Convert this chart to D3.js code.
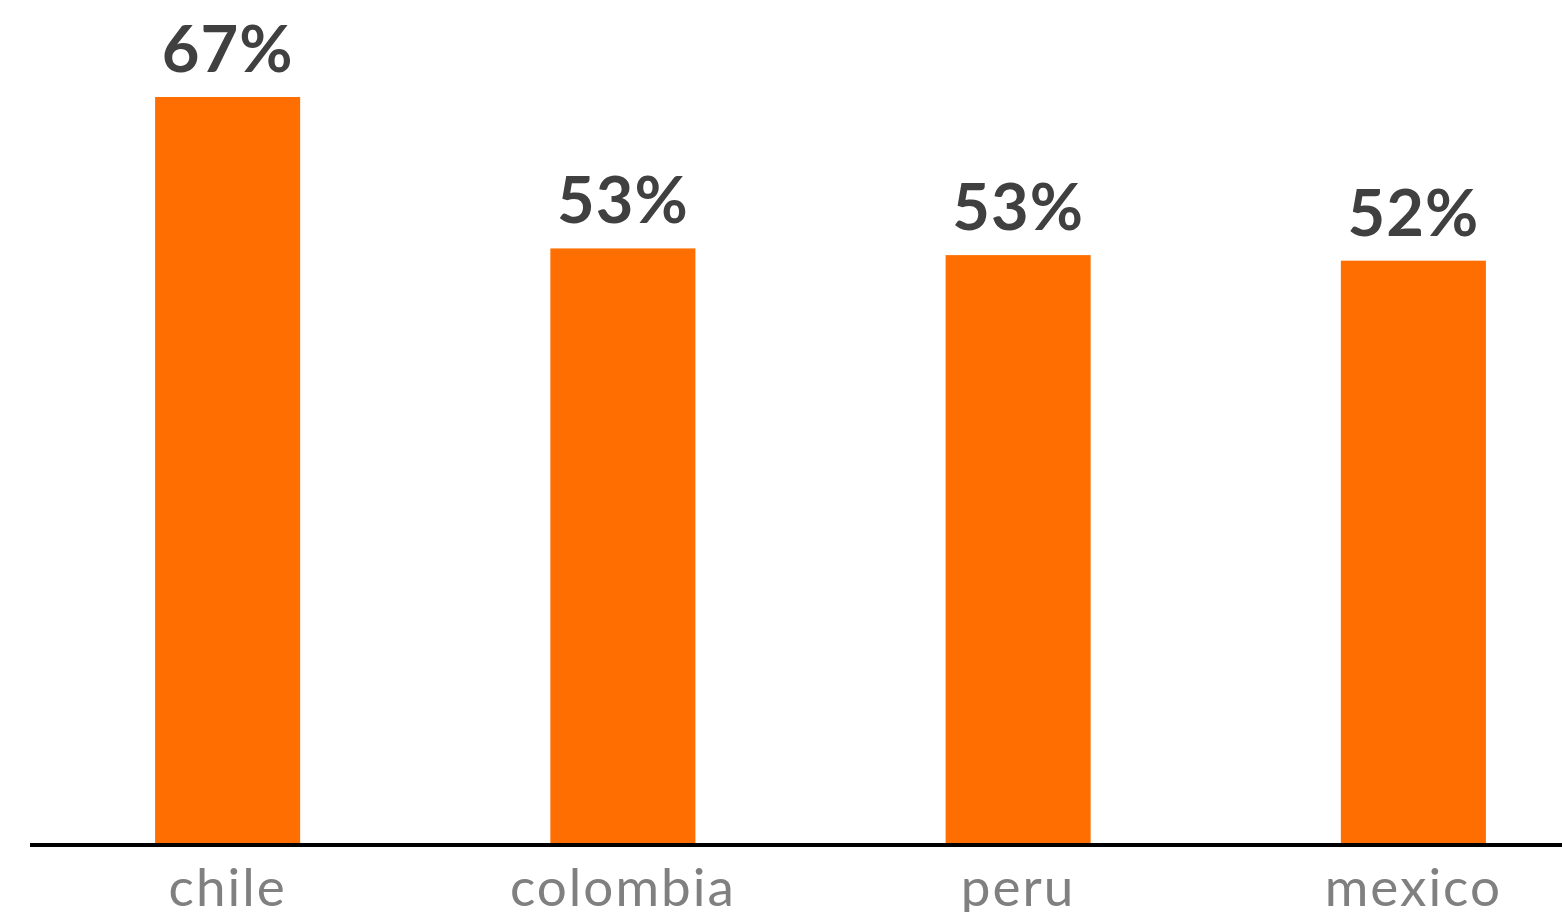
<!DOCTYPE html>
<html>
<head>
<meta charset="utf-8">
<script src="https://cdn.jsdelivr.net/npm/d3@7"></script>
<style>
  html, body { margin: 0; padding: 0; background: #fff; overflow: hidden; }
</style>
</head>
<body>
<div id="chart"></div>
<script>
const countries = ["chile", "colombia", "peru", "mexico"];
const shares = [67, 53.4, 52.8, 52.3];
const shareLabels = ["67%", "53%", "53%", "52%"];

const width = 1562;
const height = 912;
const baseline = 843;

const svg = d3.select("#chart").append("svg")
  .attr("width", width)
  .attr("height", height);

const x = d3.scaleBand()
  .domain(countries)
  .range([30, 1611])
  .paddingInner(0.633)
  .paddingOuter(0.3165);

const y = d3.scaleLinear()
  .domain([0, 67])
  .range([baseline, 97]);

svg.selectAll(".bar")
  .data(countries)
  .enter().append("rect")
  .attr("class", "bar")
  .attr("x", d => x(d))
  .attr("y", (d, i) => y(shares[i]))
  .attr("width", x.bandwidth())
  .attr("height", (d, i) => baseline - y(shares[i]))
  .attr("fill", "#ff6e00");

svg.selectAll(".value")
  .data(countries)
  .enter().append("text")
  .attr("class", "value")
  .attr("x", d => x(d) + x.bandwidth() / 2)
  .attr("y", (d, i) => y(shares[i]) - 25)
  .attr("text-anchor", "middle")
  .attr("font-family", "Lato, sans-serif")
  .attr("font-weight", "bold")
  .attr("font-size", "65px")
  .attr("letter-spacing", "1px")
  .attr("fill", "#404040")
  .text((d, i) => shareLabels[i]);

// axis line + category labels
svg.append("line")
  .attr("x1", 30)
  .attr("x2", width)
  .attr("y1", baseline + 2)
  .attr("y2", baseline + 2)
  .attr("stroke", "#000")
  .attr("stroke-width", 4);

svg.selectAll(".cat")
  .data(countries)
  .enter().append("text")
  .attr("class", "cat")
  .attr("x", d => x(d) + x.bandwidth() / 2)
  .attr("y", 906)
  .attr("text-anchor", "middle")
  .attr("font-family", "Lato, sans-serif")
  .attr("font-size", "53px")
  .attr("letter-spacing", "2px")
  .attr("fill", "#808080")
  .text(d => d);
</script>
</body>
</html>
